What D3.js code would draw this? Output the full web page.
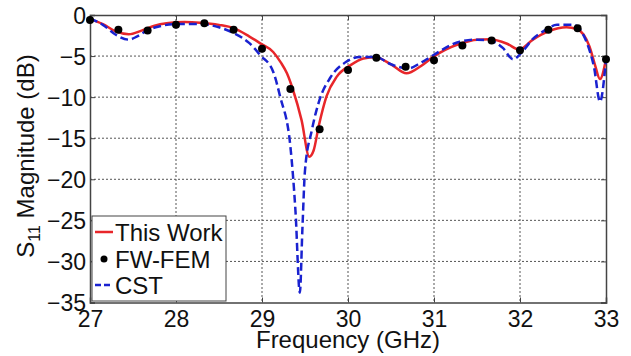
<!DOCTYPE html>
<html><head><meta charset="utf-8">
<script src="https://cdn.jsdelivr.net/npm/d3@7"></script>
<style>body{margin:0;background:#fff}svg{display:block}text{font-family:"Liberation Sans",Arial,sans-serif}</style>
</head><body><svg id="c" width="631" height="356"></svg>
<script>
const xTicks=[27,28,29,30,31,32,33];
const yTicks=[0,-5,-10,-15,-20,-25,-30,-35];
const thisWorkF=[27.00,27.15,27.30,27.45,27.60,27.75,27.89,28.10,28.28,28.50,28.67,28.85,28.98,29.13,29.22,29.29,29.36,29.46,29.55,29.60,29.66,29.75,29.87,30.03,30.18,30.32,30.50,30.68,30.85,30.99,31.30,31.50,31.65,31.85,31.99,32.15,32.33,32.54,32.66,32.81,32.87,32.93,33.00];
const thisWorkDB=[-0.5,-1.1,-2.0,-2.35,-1.9,-1.3,-1.0,-0.85,-0.93,-1.2,-1.6,-2.6,-3.45,-4.5,-5.8,-7.1,-9.1,-12.8,-17.25,-16.5,-13.5,-9.9,-7.5,-6.1,-5.3,-5.15,-6.0,-7.1,-6.2,-5.1,-3.5,-3.0,-2.96,-3.5,-4.2,-3.0,-2.0,-1.5,-1.7,-3.9,-6.0,-7.8,-5.4];
const femF=[27.00,27.33,27.67,28.00,28.33,28.67,29.00,29.33,29.67,30.00,30.33,30.67,31.00,31.33,31.67,32.00,32.33,32.67,33.00];
const femDB=[-0.6,-1.8,-1.9,-1.2,-1.0,-1.8,-4.1,-9.0,-13.9,-6.7,-5.2,-6.3,-5.5,-3.7,-3.1,-4.3,-1.8,-1.6,-5.4];
const cstF=[27.00,27.15,27.30,27.45,27.55,27.66,27.80,28.00,28.28,28.50,28.67,28.85,28.98,29.13,29.21,29.33,29.39,29.44,29.47,29.50,29.58,29.67,29.79,29.98,30.14,30.32,30.50,30.70,30.85,30.99,31.30,31.50,31.65,31.80,31.92,32.04,32.15,32.27,32.43,32.63,32.70,32.78,32.86,32.93,33.00];
const cstDB=[-0.4,-1.2,-2.4,-3.0,-2.6,-1.9,-1.4,-1.1,-1.1,-1.5,-2.2,-3.4,-4.9,-6.9,-9.9,-16.0,-24.0,-33.8,-26.0,-18.9,-14.0,-10.3,-7.7,-5.7,-5.1,-5.1,-6.0,-6.5,-5.8,-4.9,-3.25,-3.0,-3.1,-4.0,-5.4,-4.3,-2.9,-2.0,-1.2,-1.2,-1.8,-3.45,-6.3,-10.55,-5.4];
const legendLabels=["This Work","FW-FEM","CST"];

const svg=d3.select("#c");
const L=90,R=606,T=15,B=302.5;
const x=d3.scaleLinear().domain([27,33]).range([L,R]);
const y=d3.scaleLinear().domain([-35,0]).range([B,T]);
const axisCol="#444";

// grid
const g=svg.append("g");
g.selectAll(".gx").data(xTicks.slice(1,-1)).enter().append("line")
 .attr("x1",d=>x(d)).attr("x2",d=>x(d)).attr("y1",T).attr("y2",B)
 .attr("stroke","#555").attr("stroke-width",1).attr("stroke-dasharray","2,2");
g.selectAll(".gy").data(yTicks.slice(1,-1)).enter().append("line")
 .attr("y1",d=>y(d)).attr("y2",d=>y(d)).attr("x1",L).attr("x2",R)
 .attr("stroke","#555").attr("stroke-width",1).attr("stroke-dasharray","2,2");

// axes
const xa=svg.append("g").attr("transform",`translate(0,${B})`)
 .call(d3.axisBottom(x).tickValues(xTicks).tickSize(-5).tickPadding(7).tickFormat(d3.format("d")));
const xa2=svg.append("g").attr("transform",`translate(0,${T})`)
 .call(d3.axisTop(x).tickValues(xTicks).tickSize(-5).tickFormat(""));
const ya=svg.append("g").attr("transform",`translate(${L},0)`)
 .call(d3.axisLeft(y).tickValues(yTicks).tickSize(-5).tickPadding(4).tickFormat(d3.format("d")));
const ya2=svg.append("g").attr("transform",`translate(${R},0)`)
 .call(d3.axisRight(y).tickValues(yTicks).tickSize(-5).tickFormat(""));
[xa,xa2,ya,ya2].forEach(a=>{a.select(".domain").attr("stroke",axisCol).attr("stroke-width",1.5);a.selectAll(".tick line").attr("stroke",axisCol);});
xa.selectAll("text").attr("font-size",23).attr("fill","#111").attr("dy","0.74em");
ya.selectAll("text").attr("font-size",23).attr("fill","#111").attr("dy","0.36em");

// lines
const red=thisWorkF.map((f,i)=>[f,thisWorkDB[i]]);
const blue=cstF.map((f,i)=>[f,cstDB[i]]);
const line=d3.line().x(d=>x(d[0])).y(d=>y(d[1])).curve(d3.curveMonotoneX);
svg.append("path").datum(red).attr("d",line).attr("fill","none").attr("stroke","#e8262a").attr("stroke-width",2.5);
svg.append("path").datum(blue).attr("d",line).attr("fill","none").attr("stroke","#1a22d0").attr("stroke-width",2.5).attr("stroke-dasharray","8,4");
svg.selectAll(".dot").data(femF).enter().append("circle")
 .attr("cx",d=>x(d)).attr("cy",(d,i)=>y(femDB[i])).attr("r",4).attr("fill","#000");

// legend
const lg=svg.append("g");
lg.append("rect").attr("x",92).attr("y",216).attr("width",134).attr("height",85).attr("fill","#fff").attr("stroke","#444").attr("stroke-width",1);
const ly=[232,259,285];
lg.append("line").attr("x1",95).attr("x2",113).attr("y1",ly[0]).attr("y2",ly[0]).attr("stroke","#e8262a").attr("stroke-width",2.5);
lg.append("circle").attr("cx",104).attr("cy",ly[1]).attr("r",3.5).attr("fill","#000");
lg.append("line").attr("x1",95).attr("x2",113).attr("y1",ly[2]).attr("y2",ly[2]).attr("stroke","#1a22d0").attr("stroke-width",2.5).attr("stroke-dasharray","6,3");
lg.selectAll(".lt").data(legendLabels).enter().append("text")
 .attr("x",115).attr("y",(d,i)=>ly[i]).attr("dy","0.36em").attr("font-size",24).attr("fill","#111").text(d=>d);

// titles
svg.append("text").attr("x",348).attr("y",348).attr("text-anchor","middle").attr("font-size",24).attr("fill","#111").text("Frequency (GHz)");
const yt=svg.append("text").attr("transform","translate(34,156) rotate(-90)").attr("text-anchor","middle").attr("font-size",24).attr("fill","#111");
yt.append("tspan").text("S");
yt.append("tspan").attr("font-size",16).attr("dy",6).text("11");
yt.append("tspan").attr("dy",-6).text(" Magnitude (dB)");
</script></body></html>
